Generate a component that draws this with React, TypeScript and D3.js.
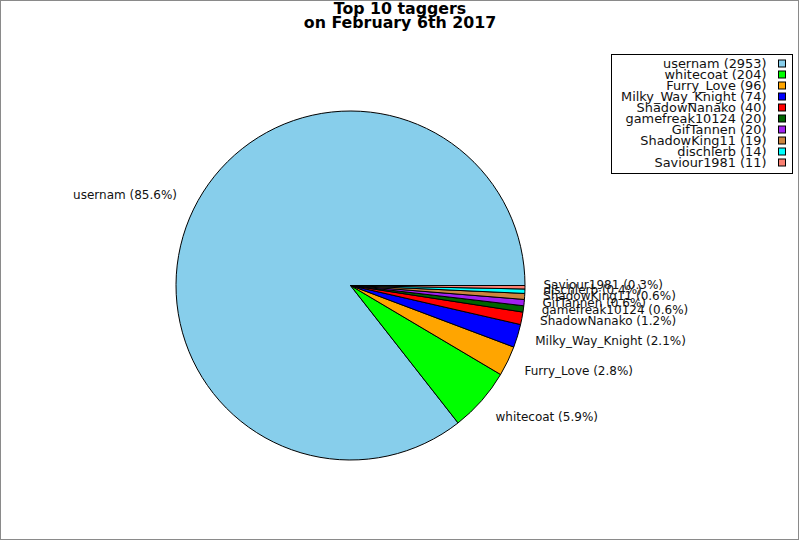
import React, { useEffect, useRef } from 'react';
import * as d3 from 'd3';

const names = ['usernam', 'whitecoat', 'Furry_Love', 'Milky_Way_Knight', 'ShadowNanako', 'gamefreak10124', 'GifTannen', 'ShadowKing11', 'dischlerb', 'Saviour1981'];
const counts = [2953, 204, 96, 74, 40, 20, 20, 19, 14, 11];
const colors = ['#87CEEB', '#00FF00', '#FFA500', '#0000FF', '#FF0000', '#006400', '#A020F0', '#CD853F', '#00FFFF', '#FA8072'];
const titleLines = ['Top 10 taggers', 'on February 6th 2017'];

const W = 800;
const H = 540;
const CX = 350.5;
const CY = 285.5;
const R = 174.5;
const LR = 193;
const FONT = 'DejaVu Sans, Verdana, sans-serif';

export default function App() {
  const ref = useRef<SVGSVGElement>(null);

  useEffect(() => {
    const svg = d3.select(ref.current!);
    svg.selectAll('*').remove();

    svg.append('rect').attr('x', 0).attr('y', 0).attr('width', W).attr('height', H).attr('fill', '#fff');
    svg.append('rect').attr('x', 0.5).attr('y', 0.5).attr('width', W - 2).attr('height', H - 1)
      .attr('fill', 'none').attr('stroke', '#8a8a8a').attr('stroke-width', 1);

    // Title
    const title = svg.append('text').attr('text-anchor', 'middle').attr('font-family', FONT)
      .attr('font-weight', 'bold').attr('font-size', 15.8).attr('fill', '#000');
    titleLines.forEach((t, i) => {
      title.append('tspan').attr('x', 400).attr('y', 14.3 + i * 13.6).text(t);
    });

    const total = d3.sum(counts);
    const pie = d3.pie<number>().sort(null).value(d => d)
      .startAngle(Math.PI / 2).endAngle(Math.PI / 2 - 2 * Math.PI);
    const arcs = pie(counts);
    const arc = d3.arc<d3.PieArcDatum<number>>().innerRadius(0).outerRadius(R);

    const g = svg.append('g').attr('transform', `translate(${CX},${CY})`);
    g.selectAll('path').data(arcs).enter().append('path')
      .attr('d', d => arc(d) as string)
      .attr('fill', (_d, i) => colors[i])
      .attr('stroke', '#000').attr('stroke-width', 1).attr('stroke-linejoin', 'round');

    // Labels (JpGraph-style outside placement)
    const h = 13;
    arcs.forEach((d, i) => {
      let a = Math.PI / 2 - (d.startAngle + d.endAngle) / 2;
      while (a < 0) a += 2 * Math.PI;
      while (a > 2 * Math.PI) a -= 2 * Math.PI;
      const xt = CX + LR * Math.cos(a);
      const yt = CY - LR * Math.sin(a);
      const P = Math.PI;
      let dx = 0, dy = 0;
      if (a >= 7 * P / 4 || a <= P / 4) dx = 0;
      if (a >= P / 4 && a <= 3 * P / 4) dx = (a - P / 4) * 2 / P;
      if (a >= 3 * P / 4 && a <= 5 * P / 4) dx = 1;
      if (a >= 5 * P / 4 && a <= 7 * P / 4) dx = 1 - (a - 5 * P / 4) * 2 / P;
      if (a >= 7 * P / 4) dy = (a - 7 * P / 4) * 2 / P;
      if (a <= P / 4) dy = 1 - a * 2 / P;
      if (a >= P / 4 && a <= 3 * P / 4) dy = 1;
      if (a >= 3 * P / 4 && a <= 5 * P / 4) dy = 1 - (a - 3 * P / 4) * 2 / P;
      if (a >= 5 * P / 4 && a <= 7 * P / 4) dy = 0;
      const pct = (counts[i] / total * 100).toFixed(1);
      const t = svg.append('text').attr('font-family', FONT).attr('font-size', 12).attr('fill', '#111')
        .text(`${names[i]} (${pct}%)`);
      const w = (t.node() as SVGTextElement).getComputedTextLength();
      t.attr('x', xt - dx * w).attr('y', yt - dy * h + 8.3);
    });

    // Legend
    const lg = svg.append('g');
    lg.append('rect').attr('x', 611.5).attr('y', 54.5).attr('width', 181).attr('height', 119)
      .attr('fill', '#fff').attr('stroke', '#000').attr('stroke-width', 1);
    names.forEach((n, i) => {
      const cy = 63.5 + i * 11;
      lg.append('text').attr('x', 766.5).attr('y', cy + 4.5).attr('text-anchor', 'end')
        .attr('font-family', FONT).attr('font-size', 12.9).attr('fill', '#111')
        .text(`${n} (${counts[i]})`);
      lg.append('rect').attr('x', 778.5).attr('y', cy - 3.5).attr('width', 7).attr('height', 7)
        .attr('fill', colors[i]).attr('stroke', '#000').attr('stroke-width', 1);
    });
  }, []);

  return (
    <svg ref={ref} width={W} height={H} style={{ position: 'absolute', left: 0, top: 0, display: 'block' }} />
  );
}
